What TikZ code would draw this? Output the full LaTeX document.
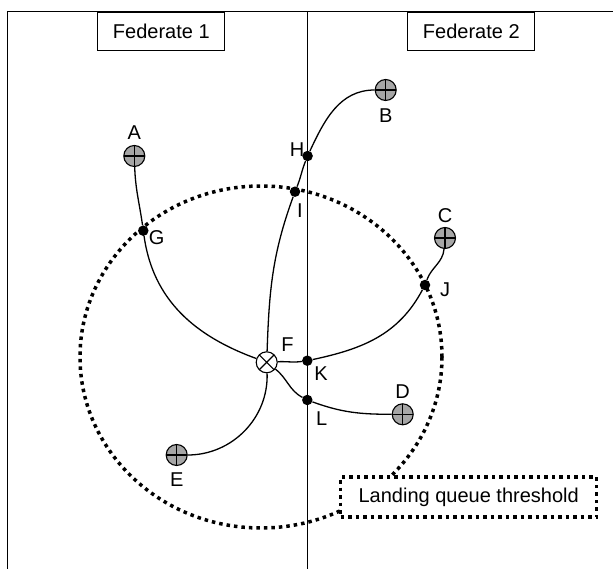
\documentclass[tikz,border=0pt]{standalone}
\usepackage{fontspec}
\setmainfont{Liberation Sans}
\usetikzlibrary{positioning,calc}
\tikzset{
  frameline/.style={line width=1.6pt},
  fedbox/.style={draw,line width=1.2pt,fill=white,minimum width=127pt,minimum height=38.7pt,inner sep=0pt},
  aircraft/.style={circle,draw,line width=1.1pt,fill=black!35,minimum size=21pt,inner sep=0pt,
    path picture={\draw[line width=1.1pt] (path picture bounding box.north)--(path picture bounding box.south)
      (path picture bounding box.west)--(path picture bounding box.east);}},
  airport/.style={circle,draw,line width=1.1pt,fill=white,minimum size=21pt,inner sep=0pt,
    path picture={\draw[line width=1.1pt] (path picture bounding box.north west)--(path picture bounding box.south east)
      (path picture bounding box.north east)--(path picture bounding box.south west);}},
  hop/.style={circle,fill=black,minimum size=10.5pt,inner sep=0pt},
  lbl/.style={inner sep=0pt},
  route/.style={line width=1.3pt},
  threshold/.style={line width=3.5pt,dash pattern=on 3.5pt off 4pt},
  thresholdbox/.style={threshold,draw,fill=white,minimum width=256pt,minimum height=40pt,inner sep=0pt}
}
\begin{document}
\begin{tikzpicture}[x=1pt,y=1pt,font=\fontsize{20}{24}\selectfont]
  \useasboundingbox (0,0) rectangle (613,568);
  % frame and the two federates
  \draw[frameline] (7.5,-2) -- (7.5,556.3) -- (615,556.3);
  \draw[frameline] (307.3,-2) -- (307.3,556.3);
  \node[fedbox] (fed1) at (161.3,536.7) {Federate 1};
  \node[fedbox] (fed2) at (471.3,536.7) {Federate 2};
  % landing queue threshold
  \draw[threshold] (261,211) ellipse [x radius=181,y radius=171];
  % aircraft, airport and crossing points
  \node[aircraft] (A) at (134.3,412) {};
  \node[aircraft] (B) at (385.7,478) {};
  \node[aircraft] (C) at (445,330) {};
  \node[aircraft] (D) at (402.7,153.7) {};
  \node[aircraft] (E) at (176.7,113) {};
  \node[airport] (F) at (266.7,205.7) {};
  \node[hop] (G) at (143.3,337.3) {};
  \node[hop] (H) at (307.6,412) {};
  \node[hop] (I) at (295,376.3) {};
  \node[hop] (J) at (425,283) {};
  \node[hop] (K) at (307.3,207.3) {};
  \node[hop] (L) at (307.3,168) {};
  % routes
  \draw[route] (A) to[out=-88,in=98] (G) to[out=-82,in=160] (F);
  \draw[route] (B) to[out=180,in=65] (H) to[out=-112,in=68] (I) to[out=-110,in=88] (F);
  \draw[route] (C) to[out=-95,in=70] (J) to[out=-118,in=12] (K) to[out=188,in=3] (F);
  \draw[route] (D) to[out=180,in=-20] (L) to[out=152,in=-38] (F);
  \draw[route] (E) to[out=0,in=-88] (F);
  % labels
  \node[lbl,above=5pt of A] (Alab) {A};
  \node[lbl,below=7pt of B] (Blab) {B};
  \node[lbl,above=4pt of C] (Clab) {C};
  \node[lbl,above=5pt of D] (Dlab) {D};
  \node[lbl,below=6pt of E] (Elab) {E};
  \node[lbl] (Flab) at ($(F)+(20.8,17.3)$) {F};
  \node[lbl] (Glab) at ($(G)+(13.4,-7.3)$) {G};
  \node[lbl] (Hlab) at ($(H)+(-10.5,6.3)$) {H};
  \node[lbl] (Ilab) at ($(I)+(5,-19)$) {I};
  \node[lbl] (Jlab) at ($(J)+(20,-5)$) {J};
  \node[lbl] (Klab) at ($(K)+(13.7,-12.6)$) {K};
  \node[lbl] (Llab) at ($(L)+(14.4,-19)$) {L};
  \node[thresholdbox] (thr) at (468.7,71) {Landing queue threshold};
\end{tikzpicture}
\end{document}
